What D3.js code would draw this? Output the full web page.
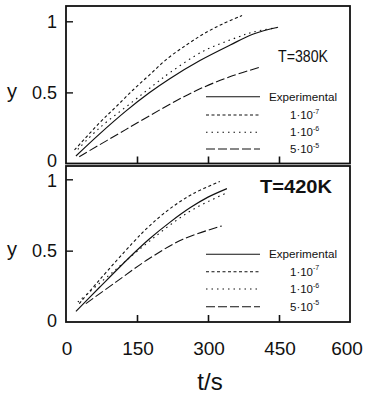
<!DOCTYPE html>
<html><head><meta charset="utf-8">
<script src="https://cdn.jsdelivr.net/npm/d3@7/dist/d3.min.js"></script>
<style>
body{margin:0;background:#fff;}
svg{display:block;}
text{fill:#111;}
</style></head>
<body>
<svg id="chart" width="365" height="394"></svg>
<script>
// ---- data ----
const xTicks = [0, 150, 300, 450, 600];
const yTicks = [0, 0.5, 1];
const yTickLabels = ["0", "0.5", "1"];
const seriesNames = ["Experimental", "1·10", "1·10", "5·10"];
const seriesExps = ["", "-7", "-6", "-5"];
const panelTitles = ["T=380K", "T=420K"];

// T = 380 K
const top_exp_t = [21, 70, 127, 176, 220, 283, 347, 396, 448];
const top_exp_y = [0.053, 0.205, 0.370, 0.497, 0.598, 0.724, 0.833, 0.911, 0.958];
const top_e7_t = [18, 70, 106, 141, 176, 215, 255, 290, 330, 372];
const top_e7_y = [0.095, 0.283, 0.40, 0.515, 0.622, 0.74, 0.835, 0.91, 0.98, 1.04];
const top_e6_t = [25, 70, 141, 190, 220, 290, 360, 396, 445];
const top_e6_y = [0.10, 0.248, 0.435, 0.564, 0.64, 0.79, 0.885, 0.925, 0.955];
const top_e5_t = [28, 127, 232, 283, 346, 413];
const top_e5_y = [0.048, 0.24, 0.44, 0.525, 0.61, 0.68];

// T = 420 K
const bot_exp_t = [21, 70, 141, 176, 220, 262, 300, 340];
const bot_exp_y = [0.075, 0.24, 0.475, 0.582, 0.70, 0.80, 0.875, 0.935];
const bot_e7_t = [28, 70, 141, 176, 220, 269, 325];
const bot_e7_y = [0.129, 0.292, 0.555, 0.672, 0.795, 0.90, 0.985];
const bot_e6_t = [25, 70, 106, 141, 176, 220, 269, 336];
const bot_e6_y = [0.14, 0.269, 0.37, 0.47, 0.565, 0.68, 0.79, 0.90];
const bot_e5_t = [42, 106, 176, 247, 329];
const bot_e5_y = [0.129, 0.281, 0.445, 0.58, 0.673];

// ---- drawing ----
const svg = d3.select("#chart");
const SANS = "'Liberation Sans', Arial, Helvetica, sans-serif";
const dashes = [null, "3,2.5", "1.5,4", "9,3"];

const x = d3.scaleLinear().domain([0, 600]).range([66, 350]);

const panels = [
  {top: 6, y0: 163.5, y1: 21.3, title: panelTitles[0], tx: 278, ty: 62, tsize: 17, tweight: "normal", tlen: 50,
   series: [[top_exp_t, top_exp_y], [top_e7_t, top_e7_y], [top_e6_t, top_e6_y], [top_e5_t, top_e5_y]],
   legY: [96.7, 115, 132.3, 149], zeroShift: -3, oneShift: 0},
  {top: 166, y0: 322, y1: 179.3, title: panelTitles[1], tx: 260, ty: 193, tsize: 18.5, tweight: "bold", tlen: 72,
   series: [[bot_exp_t, bot_exp_y], [bot_e7_t, bot_e7_y], [bot_e6_t, bot_e6_y], [bot_e5_t, bot_e5_y]],
   legY: [254.3, 271.7, 289, 306.7], zeroShift: -1, oneShift: 1}
];

panels.forEach(p => {
  const y = d3.scaleLinear().domain([0, 1]).range([p.y0, p.y1]);
  const g = svg.append("g");

  // curves
  const line = d3.line().x(d => x(d[0])).y(d => y(d[1])).curve(d3.curveCatmullRom.alpha(0.5));
  p.series.forEach((s, i) => {
    const pts = s[0].map((t, k) => [t, s[1][k]]);
    g.append("path").datum(pts).attr("d", line)
      .attr("fill", "none").attr("stroke", "#111").attr("stroke-width", i === 0 ? 1.2 : 1.1)
      .attr("stroke-dasharray", dashes[i]);
  });

  // frame
  g.append("rect").attr("x", 66).attr("y", p.top).attr("width", 284).attr("height", p.y0 - p.top)
    .attr("fill", "none").attr("stroke", "#111").attr("stroke-width", 1.8);

  // x ticks (inward)
  const xAx = g.append("g").attr("transform", `translate(0,${p.y0})`)
    .call(d3.axisBottom(x).tickValues([150, 300, 450]).tickSize(-7).tickFormat(""));
  xAx.select(".domain").remove();
  xAx.selectAll("line").attr("stroke", "#111").attr("stroke-width", 1.6);

  // y ticks (inward)
  const yAx = g.append("g").attr("transform", `translate(66,0)`)
    .call(d3.axisLeft(y).tickValues([0.5, 1]).tickSize(-7).tickFormat(""));
  yAx.select(".domain").remove();
  yAx.selectAll("line").attr("stroke", "#111").attr("stroke-width", 1.4);

  // y tick labels
  yTicks.forEach((v, i) => {
    const shift = v === 0 ? p.zeroShift : (v === 1 ? p.oneShift : 0);
    g.append("text").attr("x", 57).attr("y", y(v) + shift).attr("dy", "0.36em")
      .attr("text-anchor", "end").attr("font-family", SANS).attr("font-size", 18)
      .text(yTickLabels[i]);
  });
  // y axis label
  g.append("text").attr("x", 12).attr("y", y(0.5) - 2).attr("dy", "0.36em")
    .attr("text-anchor", "middle").attr("font-family", SANS)
    .attr("font-size", 20).text("y");

  // title
  g.append("text").attr("x", p.tx).attr("y", p.ty).attr("font-family", SANS)
    .attr("font-size", p.tsize).attr("font-weight", p.tweight)
    .attr("textLength", p.tlen).attr("lengthAdjust", "spacingAndGlyphs")
    .text(p.title);

  // legend
  p.legY.forEach((ly, i) => {
    g.append("line").attr("x1", 206).attr("x2", 260).attr("y1", ly).attr("y2", ly)
      .attr("stroke", "#111").attr("stroke-width", 1.1).attr("stroke-dasharray", dashes[i]);
    const t = g.append("text").attr("font-family", SANS).attr("font-size", 11.5)
      .attr("y", ly).attr("dy", "0.36em");
    if (i === 0) {
      t.attr("x", 269).attr("textLength", 68).attr("lengthAdjust", "spacingAndGlyphs").text(seriesNames[i]);
    } else {
      t.attr("x", 290).text(seriesNames[i]);
      t.append("tspan").attr("font-size", 7).attr("dy", "-0.8em").text(seriesExps[i]);
    }
  });
});

// bottom x tick labels
xTicks.forEach(v => {
  svg.append("text").attr("x", Math.min(x(v) + 1, 347)).attr("y", 348).attr("dy", "0.36em")
    .attr("text-anchor", "middle").attr("font-family", SANS).attr("font-size", 19)
    .text(v);
});
svg.append("text").attr("x", 210).attr("y", 390).attr("text-anchor", "middle")
  .attr("font-family", SANS).attr("font-size", 24).text("t/s");
</script>
</body></html>
